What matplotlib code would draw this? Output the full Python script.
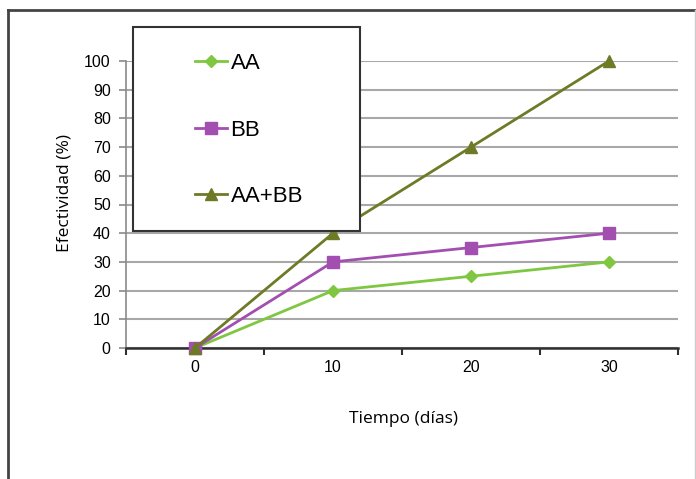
import matplotlib.pyplot as plt
from matplotlib.patches import Rectangle
from matplotlib.lines import Line2D

days = ['0', '10', '20', '30']
aa = [0, 20, 25, 30]
bb = [0, 30, 35, 40]
aa_bb = [0, 40, 70, 100]
yticks = list(range(0, 101, 10))

W, H = 696, 479
fig = plt.figure(figsize=(W / 100, H / 100), dpi=100)
ax = fig.add_axes([126 / W, 1 - 348 / H, 552 / W, 287 / H])

x = list(range(len(days)))
ax.plot(x, aa, color='#7fc741', lw=2, marker='D', ms=6, label='AA', clip_on=False, zorder=3)
ax.plot(x, bb, color='#a24fb0', lw=2, marker='s', ms=9, label='BB', clip_on=False, zorder=3)
ax.plot(x, aa_bb, color='#6f7a27', lw=2, marker='^', ms=9, label='AA+BB', clip_on=False, zorder=3)

ax.set_xlim(-0.5, len(days) - 0.5)
ax.set_ylim(0, 100)
ax.set_yticks(yticks)
ax.set_xticks(x)
ax.set_xticklabels(days)
ax.set_xticks([i - 0.5 for i in range(len(days) + 1)], minor=True)
ax.tick_params(axis='x', which='major', length=0, pad=9, labelsize=11.5)
ax.tick_params(axis='x', which='minor', length=5, width=1.5, color='#303030', direction='out')
ax.tick_params(axis='y', length=5, width=1.2, color='#8a8a8a', pad=6, labelsize=11.5)
for lab in ax.get_xticklabels() + ax.get_yticklabels():
    lab.set_family('Liberation Sans')

ax.yaxis.grid(True, color='#a8a8a8', lw=1.5)
ax.set_axisbelow(True)
for s in ['top', 'right']:
    ax.spines[s].set_visible(False)
ax.spines['left'].set_color('#8a8a8a')
ax.spines['left'].set_linewidth(1.2)
ax.spines['bottom'].set_color('#303030')
ax.spines['bottom'].set_linewidth(1.8)
ax.spines['bottom'].set_zorder(2.5)

ax.set_ylabel('Efectividad (%)', family='Open Sans', fontsize=12.5)
ax.yaxis.set_label_coords(-0.097, 0.54)
ax.set_xlabel('Tiempo (días)', family='Open Sans', fontsize=12.5)
ax.xaxis.set_label_coords(0.502, -0.22)

# legend box
box = Rectangle((133 / W, 1 - 231 / H), 227 / W, 204 / H, transform=fig.transFigure,
                facecolor='white', edgecolor='#333333', lw=1.5, zorder=4, clip_on=False)
ax.add_patch(box)
leg = ax.legend(loc='upper left', bbox_to_anchor=(195 / W, 1 - 53 / H),
                bbox_transform=fig.transFigure, frameon=False, borderpad=0,
                borderaxespad=0, labelspacing=2.05, handlelength=1.45,
                handletextpad=0.15,
                prop={'family': 'Liberation Sans', 'size': 16})
leg.set_zorder(5)

# outer frame
fig.add_artist(Line2D([8 / W, 1], [1 - 10 / H, 1 - 10 / H], color='#444444', lw=2))
fig.add_artist(Line2D([8 / W, 8 / W], [0, 1 - 10 / H], color='#444444', lw=2))
fig.add_artist(Line2D([695 / W, 695 / W], [0, 1 - 10 / H], color='#cccccc', lw=1))

fig.savefig('out.png', dpi=100)
